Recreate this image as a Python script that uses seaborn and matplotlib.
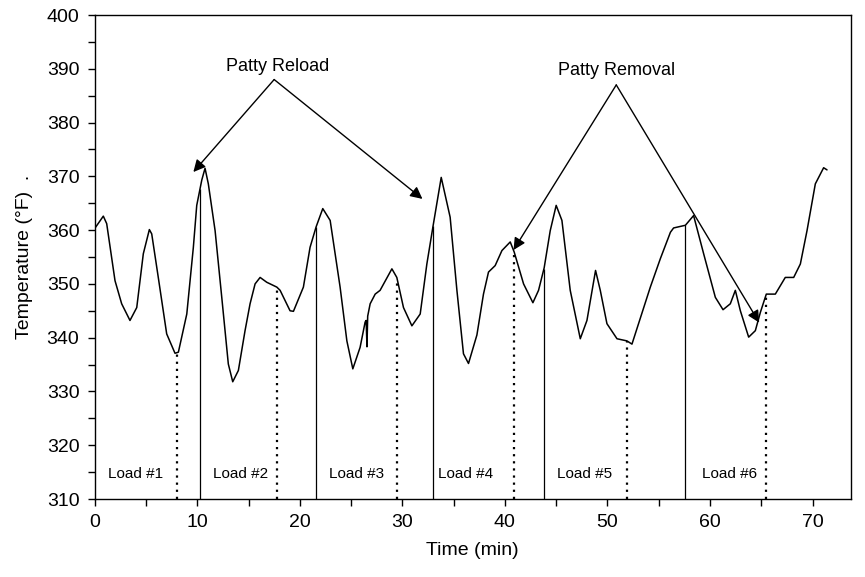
import numpy as np
import matplotlib
matplotlib.use("Agg")
import matplotlib.pyplot as plt
import seaborn as sns

# ---- data ----
time = [0.0, 0.84, 1.17, 1.98, 2.63, 3.44, 4.10, 4.74, 5.33, 5.56, 6.20, 7.02, 7.83, 8.16,
        8.98, 9.62, 9.95, 10.44, 10.76, 11.08, 11.74, 12.39, 13.03, 13.46, 14.01, 14.66,
        15.15, 15.64, 16.13, 16.78, 17.76, 18.08, 19.05, 19.38, 20.35, 21.00, 21.59, 22.24,
        22.96, 23.93, 24.59, 25.17, 25.88, 26.37, 26.47, 26.55, 26.62, 26.86, 27.35, 27.83,
        28.98, 29.46, 30.11, 30.93, 31.74, 32.39, 32.98, 33.79, 34.66, 35.32, 35.96, 36.45,
        37.27, 37.91, 38.40, 39.05, 39.71, 40.52, 40.91, 41.82, 42.73, 43.28, 43.83, 44.42,
        45.00, 45.56, 46.37, 47.35, 48.00, 48.84, 49.30, 49.95, 50.93, 51.90, 52.39, 54.18,
        55.16, 56.14, 56.45, 57.60, 58.40, 59.38, 60.52, 61.27, 61.98, 62.47, 62.96, 63.77,
        64.42, 64.91, 65.49, 66.37, 67.34, 68.16, 68.81, 69.46, 70.27, 71.08, 71.41]
temp = [360.3, 362.6, 361.2, 350.6, 346.3, 343.2, 345.6, 355.6, 360.1, 359.3, 351.2, 340.7,
        337.1, 337.3, 344.4, 356.8, 364.6, 369.3, 371.5, 368.6, 359.9, 347.5, 335.1, 331.8,
        333.9, 341.3, 346.3, 350.0, 351.2, 350.3, 349.4, 348.8, 345.0, 344.9, 349.4, 356.8,
        360.6, 364.0, 361.8, 349.4, 339.4, 334.2, 338.2, 342.9, 343.2, 338.3, 344.0, 346.3,
        348.1, 348.8, 352.8, 351.2, 345.6, 342.2, 344.4, 353.7, 360.6, 369.8, 362.4, 348.8,
        337.0, 335.2, 340.5, 348.1, 352.2, 353.4, 356.2, 357.8, 355.9, 350.0, 346.5, 348.8,
        353.0, 359.9, 364.6, 361.8, 348.8, 339.8, 343.2, 352.5, 348.8, 342.6, 339.8, 339.4,
        338.8, 349.4, 354.7, 359.6, 360.4, 360.9, 362.7, 355.6, 347.5, 345.2, 346.3, 348.8,
        345.0, 340.1, 341.3, 344.7, 348.1, 348.1, 351.2, 351.2, 353.7, 359.9, 368.6, 371.6,
        371.2]

reload_times = [10.27, 21.6, 33.0, 43.8, 57.6]          # solid lines
removal_times = [8.06, 17.8, 29.5, 40.9, 51.9, 65.5]     # dotted lines

load_labels = ["Load #1", "Load #2", "Load #3", "Load #4", "Load #5", "Load #6"]
load_label_x = [3.98, 14.25, 25.5, 36.2, 47.8, 61.9]

x_ticks = [0, 10, 20, 30, 40, 50, 60, 70]
y_ticks = [310, 320, 330, 340, 350, 360, 370, 380, 390, 400]

# ---- figure ----
sns.set_theme(style="ticks")
plt.rcParams["font.family"] = ["Liberation Sans", "DejaVu Sans"]
plt.rcParams["text.color"] = "black"

fig = plt.figure(figsize=(8.65, 5.77), dpi=100)
ax = fig.add_axes([94.7 / 865, 1 - 499 / 577, (850.5 - 94.7) / 865, (499 - 15) / 577])

sns.lineplot(x=time, y=temp, color="black", linewidth=1.1, ax=ax,
             estimator=None, sort=False, solid_joinstyle="round")

ymin = 310
for t in reload_times:
    ax.vlines(t, ymin, np.interp(t, time, temp), color="black", linewidth=0.9)
for t in removal_times:
    ax.vlines(t, ymin, np.interp(t, time, temp), color="black", linewidth=1.6,
              linestyles=(0, (1, 2.2)))

for lab, xl in zip(load_labels, load_label_x):
    ax.text(xl, 314.6, lab, ha="center", va="center", fontsize=11, color="black")

arrow = dict(arrowstyle="-|>", color="black", lw=1.0, mutation_scale=18,
             shrinkA=0, shrinkB=0)
ax.text(17.8, 390.5, "Patty Reload", ha="center", va="center", fontsize=13, color="black")
ax.annotate("", xy=(9.62, 370.8), xytext=(17.5, 388.0), arrowprops=arrow)
ax.annotate("", xy=(31.96, 365.8), xytext=(17.5, 388.0), arrowprops=arrow)

ax.text(50.9, 389.6, "Patty Removal", ha="center", va="center", fontsize=13, color="black")
ax.annotate("", xy=(40.84, 356.3), xytext=(50.86, 387.0), arrowprops=arrow)
ax.annotate("", xy=(64.8, 342.8), xytext=(50.86, 387.0), arrowprops=arrow)

ax.set_xlim(0, 73.7)
ax.set_ylim(310, 400)
ax.set_xticks(x_ticks)
ax.set_yticks(y_ticks)
ax.set_xticks(np.arange(5, 75, 10), minor=True)
ax.set_yticks(np.arange(315, 400, 10), minor=True)
ax.tick_params(axis="both", which="both", direction="out", length=5, width=1,
               color="black", labelsize=14, labelcolor="black")
ax.tick_params(axis="both", which="major", pad=6)

for s in ax.spines.values():
    s.set_visible(True)
    s.set_color("black")
    s.set_linewidth(1.0)

ax.set_xlabel("Time (min)", fontsize=14, color="black", labelpad=8)
ax.set_ylabel("Temperature (°F)  .", fontsize=14, color="black", labelpad=10)
ax.set_facecolor("white")
fig.patch.set_facecolor("white")

fig.savefig("out.png", dpi=100, facecolor="white")
